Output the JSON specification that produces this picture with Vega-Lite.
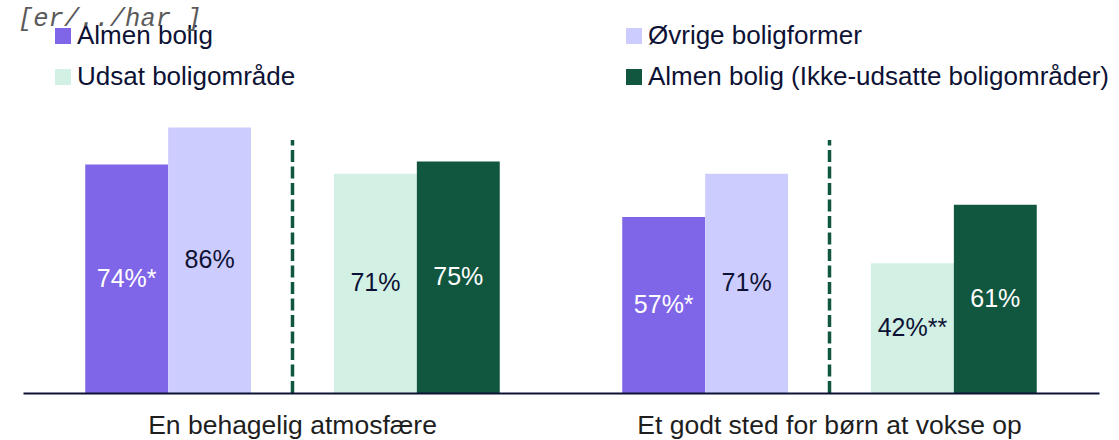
{
  "$schema": "https://vega.github.io/schema/vega-lite/v6.json",
  "width": 1076,
  "height": 392,
  "autosize": "none",
  "padding": {"left": 23, "top": 1, "right": 20, "bottom": 47},
  "background": "white",
  "title": {
    "text": "[er/../har ]",
    "anchor": "start",
    "frame": "group",
    "font": "Liberation Mono",
    "fontStyle": "italic",
    "fontWeight": "normal",
    "fontSize": 25.5,
    "color": "#5a5a5a",
    "baseline": "alphabetic",
    "offset": 0,
    "dx": -5,
    "dy": 50
  },
  "config": {"view": {"stroke": null}, "font": "Liberation Sans"},
  "resolve": {"scale": {"y": "independent"}},
  "layer": [
    {
      "data": {
        "values": [
          {"group": "En behagelig atmosfære", "cat": "Almen bolig", "value": 74, "label": "74%*"},
          {"group": "En behagelig atmosfære", "cat": "Øvrige boligformer", "value": 86, "label": "86%"},
          {"group": "En behagelig atmosfære", "cat": "Udsat boligområde", "value": 71, "label": "71%"},
          {"group": "En behagelig atmosfære", "cat": "Almen bolig (Ikke-udsatte boligområder)", "value": 75, "label": "75%"},
          {"group": "Et godt sted for børn at vokse op", "cat": "Almen bolig", "value": 57, "label": "57%*"},
          {"group": "Et godt sted for børn at vokse op", "cat": "Øvrige boligformer", "value": 71, "label": "71%"},
          {"group": "Et godt sted for børn at vokse op", "cat": "Udsat boligområde", "value": 42, "label": "42%**"},
          {"group": "Et godt sted for børn at vokse op", "cat": "Almen bolig (Ikke-udsatte boligområder)", "value": 61, "label": "61%"}
        ]
      },
      "resolve": {"scale": {"y": "independent"}},
      "layer": [
        {
          "mark": {"type": "bar"},
          "encoding": {
            "x": {
              "field": "group", "type": "nominal", "sort": null,
              "scale": {"domain": ["En behagelig atmosfære", "Et godt sted for børn at vokse op"], "paddingInner": 0.2281, "paddingOuter": 0.1159},
              "axis": {
                "title": null, "domainColor": "#0d1235", "domainWidth": 2, "ticks": false,
                "labelFont": "Liberation Sans", "labelFontSize": 26.5, "labelColor": "#1e1e1e",
                "labelPadding": 19, "labelAngle": 0, "labelLimit": 700, "zindex": 1
              }
            },
            "xOffset": {
              "field": "cat", "type": "nominal",
              "scale": {"domain": ["Almen bolig", "Øvrige boligformer", "sep", "Udsat boligområde", "Almen bolig (Ikke-udsatte boligområder)"], "paddingInner": 0, "paddingOuter": 0}
            },
            "y": {"field": "value", "type": "quantitative", "scale": {"domain": [0, 127], "nice": false, "zero": true}, "axis": null},
            "color": {
              "field": "cat", "type": "nominal",
              "scale": {
                "domain": ["Almen bolig", "Øvrige boligformer", "Udsat boligområde", "Almen bolig (Ikke-udsatte boligområder)"],
                "range": ["#7f65e8", "#cdccfe", "#d2f0e3", "#115740"]
              },
              "legend": {
                "title": null, "orient": "none", "legendX": 27, "legendY": 22,
                "direction": "horizontal", "columns": 2,
                "symbolType": "square", "symbolSize": 256, "symbolStrokeWidth": 0, "symbolOpacity": 1,
                "labelFont": "Liberation Sans", "labelFontSize": 26, "labelColor": "#0d1235",
                "labelOffset": 1, "labelLimit": 700, "columnPadding": 325, "rowPadding": 15, "padding": 0
              }
            }
          }
        },
        {
          "mark": {"type": "text", "font": "Liberation Sans", "fontSize": 25, "baseline": "middle", "align": "center"},
          "encoding": {
            "x": {"field": "group", "type": "nominal", "sort": null, "scale": {"domain": ["En behagelig atmosfære", "Et godt sted for børn at vokse op"], "paddingInner": 0.2281, "paddingOuter": 0.1159}},
            "xOffset": {
              "field": "cat", "type": "nominal",
              "scale": {"domain": ["Almen bolig", "Øvrige boligformer", "sep", "Udsat boligområde", "Almen bolig (Ikke-udsatte boligområder)"], "paddingInner": 0, "paddingOuter": 0}
            },
            "y": {"field": "value", "type": "quantitative", "scale": {"domain": [0, 254], "nice": false, "zero": true}, "axis": null},
            "text": {"field": "label"},
            "color": {
              "condition": {"test": "datum.cat === 'Almen bolig' || datum.cat === 'Almen bolig (Ikke-udsatte boligområder)'", "value": "#ffffff"},
              "value": "#0d1235"
            }
          }
        }
      ]
    },
    {
      "data": {
        "values": [
          {"group": "En behagelig atmosfære", "cat": "sep"},
          {"group": "Et godt sted for børn at vokse op", "cat": "sep"}
        ]
      },
      "mark": {"type": "rule", "color": "#115740", "strokeWidth": 3.5, "strokeDash": [12, 4.5]},
      "encoding": {
        "x": {"field": "group", "type": "nominal", "sort": null, "scale": {"domain": ["En behagelig atmosfære", "Et godt sted for børn at vokse op"], "paddingInner": 0.2281, "paddingOuter": 0.1159}},
        "xOffset": {
          "field": "cat", "type": "nominal",
          "scale": {"domain": ["Almen bolig", "Øvrige boligformer", "sep", "Udsat boligområde", "Almen bolig (Ikke-udsatte boligområder)"], "paddingInner": 0, "paddingOuter": 0}
        },
        "y": {"datum": 0, "type": "quantitative", "scale": {"domain": [0, 127], "nice": false, "zero": true}, "axis": null},
        "y2": {"datum": 82}
      }
    }
  ]
}
